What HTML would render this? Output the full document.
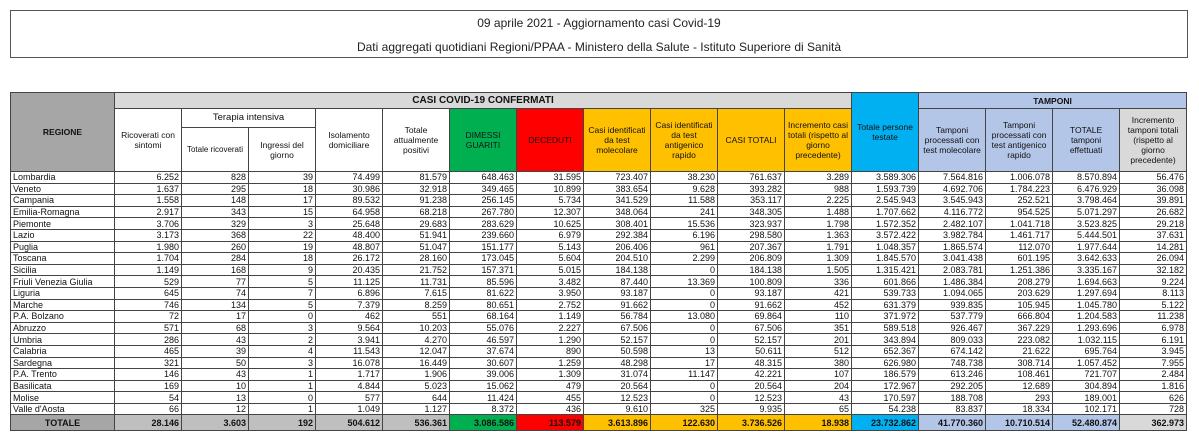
<!DOCTYPE html>
<html><head><meta charset="utf-8"><style>
body{margin:0;width:1199px;height:446px;background:#fff;font-family:"Liberation Sans",Arial,sans-serif;position:relative;overflow:hidden}
.title{position:absolute;left:10px;top:10px;width:1176px;height:46px;border:1px solid #555;text-align:center;font-size:12px;color:#222}
.title div{position:absolute;left:0;right:0}
table{position:absolute;left:10px;top:92px;border-collapse:collapse;table-layout:fixed;font-size:9px;color:#111;width:1176px}
td{border:1px solid #444;padding:0 2px;overflow:hidden;white-space:nowrap;line-height:10px}
td.n{text-align:right}
.h td{text-align:center;white-space:normal;background:#d9d9d9;font-size:8.5px;line-height:10px}
tr.d td{height:10.6px;padding-top:0;padding-bottom:0}
.g{background:#00b050!important}.r{background:#ff0000!important}.o{background:#ffc000!important}.c{background:#00b0f0!important}.b{background:#b4c6e7!important}.gr{background:#d9d9d9!important}.dg{background:#a6a6a6!important}
tr.t td{height:15px;font-weight:bold;background:#bfbfbf;text-align:right}
</style></head><body>
<div class="title"><div style="top:5px">09 aprile 2021 - Aggiornamento casi Covid-19</div><div style="top:29px">Dati aggregati quotidiani Regioni/PPAA - Ministero della Salute - Istituto Superiore di Sanità</div></div>
<table>
<colgroup><col style="width:104px"><col span="16" style="width:67px"></colgroup>
<tr class="h" style="height:16px"><td rowspan="3" class="dg" style="font-weight:bold">REGIONE</td><td colspan="11" style="font-weight:bold;font-size:10px">CASI COVID-19 CONFERMATI</td><td rowspan="3" class="c">Totale persone testate</td><td colspan="4" class="b" style="font-weight:bold">TAMPONI</td></tr>
<tr class="h" style="height:19px"><td rowspan="2" style="background:#fff">Ricoverati con sintomi</td><td colspan="2" style="background:#fff;font-size:9.5px">Terapia intensiva</td><td rowspan="2" style="background:#fff">Isolamento domiciliare</td><td rowspan="2" style="background:#fff">Totale attualmente positivi</td><td rowspan="2" class="g">DIMESSI GUARITI</td><td rowspan="2" class="r">DECEDUTI</td><td rowspan="2" class="o">Casi identificati da test molecolare</td><td rowspan="2" class="o">Casi identificati da test antigenico rapido</td><td rowspan="2" class="o">CASI TOTALI</td><td rowspan="2" class="o">Incremento casi totali (rispetto al giorno precedente)</td><td rowspan="2" class="b">Tamponi processati con test molecolare</td><td rowspan="2" class="b">Tamponi processati con test antigenico rapido</td><td rowspan="2" class="b">TOTALE tamponi effettuati</td><td rowspan="2" class="gr">Incremento tamponi totali (rispetto al giorno precedente)</td></tr>
<tr class="h" style="height:44px"><td style="background:#fff;font-size:8px">Totale ricoverati</td><td style="background:#fff">Ingressi del giorno</td></tr>
<tr class="d"><td>Lombardia</td><td class="n">6.252</td><td class="n">828</td><td class="n">39</td><td class="n">74.499</td><td class="n">81.579</td><td class="n">648.463</td><td class="n">31.595</td><td class="n">723.407</td><td class="n">38.230</td><td class="n">761.637</td><td class="n">3.289</td><td class="n">3.589.306</td><td class="n">7.564.816</td><td class="n">1.006.078</td><td class="n">8.570.894</td><td class="n">56.476</td></tr>
<tr class="d"><td>Veneto</td><td class="n">1.637</td><td class="n">295</td><td class="n">18</td><td class="n">30.986</td><td class="n">32.918</td><td class="n">349.465</td><td class="n">10.899</td><td class="n">383.654</td><td class="n">9.628</td><td class="n">393.282</td><td class="n">988</td><td class="n">1.593.739</td><td class="n">4.692.706</td><td class="n">1.784.223</td><td class="n">6.476.929</td><td class="n">36.098</td></tr>
<tr class="d"><td>Campania</td><td class="n">1.558</td><td class="n">148</td><td class="n">17</td><td class="n">89.532</td><td class="n">91.238</td><td class="n">256.145</td><td class="n">5.734</td><td class="n">341.529</td><td class="n">11.588</td><td class="n">353.117</td><td class="n">2.225</td><td class="n">2.545.943</td><td class="n">3.545.943</td><td class="n">252.521</td><td class="n">3.798.464</td><td class="n">39.891</td></tr>
<tr class="d"><td>Emilia-Romagna</td><td class="n">2.917</td><td class="n">343</td><td class="n">15</td><td class="n">64.958</td><td class="n">68.218</td><td class="n">267.780</td><td class="n">12.307</td><td class="n">348.064</td><td class="n">241</td><td class="n">348.305</td><td class="n">1.488</td><td class="n">1.707.662</td><td class="n">4.116.772</td><td class="n">954.525</td><td class="n">5.071.297</td><td class="n">26.682</td></tr>
<tr class="d"><td>Piemonte</td><td class="n">3.706</td><td class="n">329</td><td class="n">3</td><td class="n">25.648</td><td class="n">29.683</td><td class="n">283.629</td><td class="n">10.625</td><td class="n">308.401</td><td class="n">15.536</td><td class="n">323.937</td><td class="n">1.798</td><td class="n">1.572.352</td><td class="n">2.482.107</td><td class="n">1.041.718</td><td class="n">3.523.825</td><td class="n">29.218</td></tr>
<tr class="d"><td>Lazio</td><td class="n">3.173</td><td class="n">368</td><td class="n">22</td><td class="n">48.400</td><td class="n">51.941</td><td class="n">239.660</td><td class="n">6.979</td><td class="n">292.384</td><td class="n">6.196</td><td class="n">298.580</td><td class="n">1.363</td><td class="n">3.572.422</td><td class="n">3.982.784</td><td class="n">1.461.717</td><td class="n">5.444.501</td><td class="n">37.631</td></tr>
<tr class="d"><td>Puglia</td><td class="n">1.980</td><td class="n">260</td><td class="n">19</td><td class="n">48.807</td><td class="n">51.047</td><td class="n">151.177</td><td class="n">5.143</td><td class="n">206.406</td><td class="n">961</td><td class="n">207.367</td><td class="n">1.791</td><td class="n">1.048.357</td><td class="n">1.865.574</td><td class="n">112.070</td><td class="n">1.977.644</td><td class="n">14.281</td></tr>
<tr class="d"><td>Toscana</td><td class="n">1.704</td><td class="n">284</td><td class="n">18</td><td class="n">26.172</td><td class="n">28.160</td><td class="n">173.045</td><td class="n">5.604</td><td class="n">204.510</td><td class="n">2.299</td><td class="n">206.809</td><td class="n">1.309</td><td class="n">1.845.570</td><td class="n">3.041.438</td><td class="n">601.195</td><td class="n">3.642.633</td><td class="n">26.094</td></tr>
<tr class="d"><td>Sicilia</td><td class="n">1.149</td><td class="n">168</td><td class="n">9</td><td class="n">20.435</td><td class="n">21.752</td><td class="n">157.371</td><td class="n">5.015</td><td class="n">184.138</td><td class="n">0</td><td class="n">184.138</td><td class="n">1.505</td><td class="n">1.315.421</td><td class="n">2.083.781</td><td class="n">1.251.386</td><td class="n">3.335.167</td><td class="n">32.182</td></tr>
<tr class="d"><td>Friuli Venezia Giulia</td><td class="n">529</td><td class="n">77</td><td class="n">5</td><td class="n">11.125</td><td class="n">11.731</td><td class="n">85.596</td><td class="n">3.482</td><td class="n">87.440</td><td class="n">13.369</td><td class="n">100.809</td><td class="n">336</td><td class="n">601.866</td><td class="n">1.486.384</td><td class="n">208.279</td><td class="n">1.694.663</td><td class="n">9.224</td></tr>
<tr class="d"><td>Liguria</td><td class="n">645</td><td class="n">74</td><td class="n">7</td><td class="n">6.896</td><td class="n">7.615</td><td class="n">81.622</td><td class="n">3.950</td><td class="n">93.187</td><td class="n">0</td><td class="n">93.187</td><td class="n">421</td><td class="n">539.733</td><td class="n">1.094.065</td><td class="n">203.629</td><td class="n">1.297.694</td><td class="n">8.113</td></tr>
<tr class="d"><td>Marche</td><td class="n">746</td><td class="n">134</td><td class="n">5</td><td class="n">7.379</td><td class="n">8.259</td><td class="n">80.651</td><td class="n">2.752</td><td class="n">91.662</td><td class="n">0</td><td class="n">91.662</td><td class="n">452</td><td class="n">631.379</td><td class="n">939.835</td><td class="n">105.945</td><td class="n">1.045.780</td><td class="n">5.122</td></tr>
<tr class="d"><td>P.A. Bolzano</td><td class="n">72</td><td class="n">17</td><td class="n">0</td><td class="n">462</td><td class="n">551</td><td class="n">68.164</td><td class="n">1.149</td><td class="n">56.784</td><td class="n">13.080</td><td class="n">69.864</td><td class="n">110</td><td class="n">371.972</td><td class="n">537.779</td><td class="n">666.804</td><td class="n">1.204.583</td><td class="n">11.238</td></tr>
<tr class="d"><td>Abruzzo</td><td class="n">571</td><td class="n">68</td><td class="n">3</td><td class="n">9.564</td><td class="n">10.203</td><td class="n">55.076</td><td class="n">2.227</td><td class="n">67.506</td><td class="n">0</td><td class="n">67.506</td><td class="n">351</td><td class="n">589.518</td><td class="n">926.467</td><td class="n">367.229</td><td class="n">1.293.696</td><td class="n">6.978</td></tr>
<tr class="d"><td>Umbria</td><td class="n">286</td><td class="n">43</td><td class="n">2</td><td class="n">3.941</td><td class="n">4.270</td><td class="n">46.597</td><td class="n">1.290</td><td class="n">52.157</td><td class="n">0</td><td class="n">52.157</td><td class="n">201</td><td class="n">343.894</td><td class="n">809.033</td><td class="n">223.082</td><td class="n">1.032.115</td><td class="n">6.191</td></tr>
<tr class="d"><td>Calabria</td><td class="n">465</td><td class="n">39</td><td class="n">4</td><td class="n">11.543</td><td class="n">12.047</td><td class="n">37.674</td><td class="n">890</td><td class="n">50.598</td><td class="n">13</td><td class="n">50.611</td><td class="n">512</td><td class="n">652.367</td><td class="n">674.142</td><td class="n">21.622</td><td class="n">695.764</td><td class="n">3.945</td></tr>
<tr class="d"><td>Sardegna</td><td class="n">321</td><td class="n">50</td><td class="n">3</td><td class="n">16.078</td><td class="n">16.449</td><td class="n">30.607</td><td class="n">1.259</td><td class="n">48.298</td><td class="n">17</td><td class="n">48.315</td><td class="n">380</td><td class="n">626.980</td><td class="n">748.738</td><td class="n">308.714</td><td class="n">1.057.452</td><td class="n">7.955</td></tr>
<tr class="d"><td>P.A. Trento</td><td class="n">146</td><td class="n">43</td><td class="n">1</td><td class="n">1.717</td><td class="n">1.906</td><td class="n">39.006</td><td class="n">1.309</td><td class="n">31.074</td><td class="n">11.147</td><td class="n">42.221</td><td class="n">107</td><td class="n">186.579</td><td class="n">613.246</td><td class="n">108.461</td><td class="n">721.707</td><td class="n">2.484</td></tr>
<tr class="d"><td>Basilicata</td><td class="n">169</td><td class="n">10</td><td class="n">1</td><td class="n">4.844</td><td class="n">5.023</td><td class="n">15.062</td><td class="n">479</td><td class="n">20.564</td><td class="n">0</td><td class="n">20.564</td><td class="n">204</td><td class="n">172.967</td><td class="n">292.205</td><td class="n">12.689</td><td class="n">304.894</td><td class="n">1.816</td></tr>
<tr class="d"><td>Molise</td><td class="n">54</td><td class="n">13</td><td class="n">0</td><td class="n">577</td><td class="n">644</td><td class="n">11.424</td><td class="n">455</td><td class="n">12.523</td><td class="n">0</td><td class="n">12.523</td><td class="n">43</td><td class="n">170.597</td><td class="n">188.708</td><td class="n">293</td><td class="n">189.001</td><td class="n">626</td></tr>
<tr class="d"><td>Valle d'Aosta</td><td class="n">66</td><td class="n">12</td><td class="n">1</td><td class="n">1.049</td><td class="n">1.127</td><td class="n">8.372</td><td class="n">436</td><td class="n">9.610</td><td class="n">325</td><td class="n">9.935</td><td class="n">65</td><td class="n">54.238</td><td class="n">83.837</td><td class="n">18.334</td><td class="n">102.171</td><td class="n">728</td></tr>
<tr class="t"><td class="dg" style="text-align:center">TOTALE</td><td>28.146</td><td>3.603</td><td>192</td><td>504.612</td><td>536.361</td><td class="g">3.086.586</td><td class="r">113.579</td><td class="o">3.613.896</td><td class="o">122.630</td><td class="o">3.736.526</td><td class="o">18.938</td><td class="c">23.732.862</td><td class="b">41.770.360</td><td class="b">10.710.514</td><td class="b">52.480.874</td><td class="gr">362.973</td></tr>
</table>
</body></html>
